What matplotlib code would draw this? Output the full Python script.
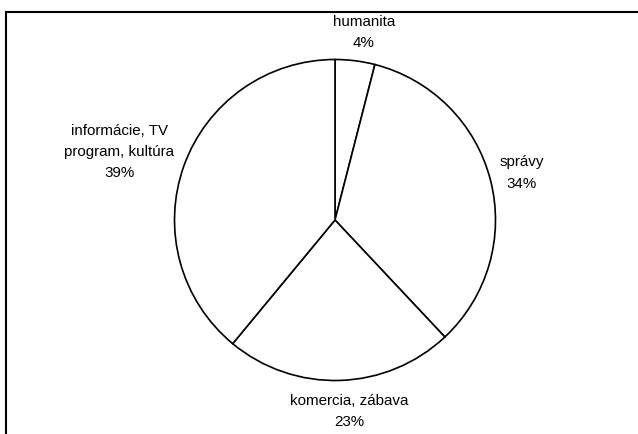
import numpy as np
import matplotlib.pyplot as plt
from matplotlib.lines import Line2D

labels = ["humanita", "správy", "komercia, zábava", "informácie, TV\nprogram, kultúra"]
shares = [4, 34, 23, 39]

# umiestnenie popisov: vzdialenost od stredu (v polomeroch) a posun uhla (stupne)
label_dist = [1.19, 1.2, 1.19, 1.41]
label_turn = [-1.5, 0.0, 2.4, 2.1]

plt.rcParams['font.family'] = ['Liberation Sans', 'DejaVu Sans']

W, H = 638, 435
fig = plt.figure(figsize=(W / 100, H / 100), dpi=100)
fig.patch.set_facecolor("white")

cx, cy, r = 335, 221, 160.5
ax = fig.add_axes([(cx - r) / W, (H - cy - r) / H, 2 * r / W, 2 * r / H])

wedges, _ = ax.pie(shares, startangle=90, counterclock=False, radius=1,
                   colors=["white"] * len(shares),
                   wedgeprops=dict(edgecolor="black", linewidth=1.2))
ax.set_xlim(-1, 1)
ax.set_ylim(-1, 1)
ax.axis("off")
for w in wedges:
    w.set_clip_on(False)

total = sum(shares)
for w, lab, val, d, t in zip(wedges, labels, shares, label_dist, label_turn):
    ang = np.deg2rad((w.theta1 + w.theta2) / 2 + t)
    ax.text(d * np.cos(ang), d * np.sin(ang), f"{lab}\n{val / total * 100:.0f}%",
            ha="center", va="center", fontsize=10.9, linespacing=1.66,
            color="black", clip_on=False)

# ramcek okolo grafu (hore a vlavo)
x0 = 6 / W
y0 = 1 - 13 / H
fig.add_artist(Line2D([x0, 1], [y0, y0], color="black", linewidth=1.5))
fig.add_artist(Line2D([x0, x0], [0, y0], color="black", linewidth=1.5))

fig.savefig("out.png", dpi=100)
